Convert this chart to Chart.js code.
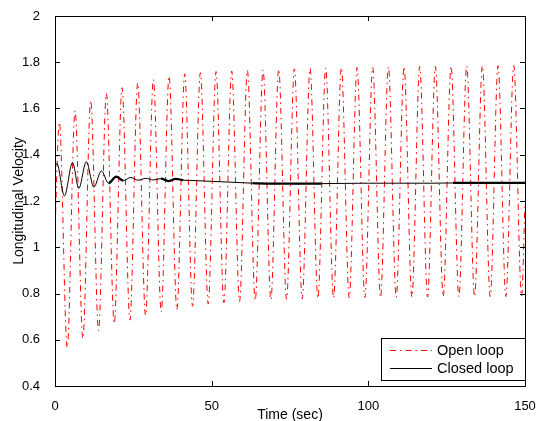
<!DOCTYPE html>
<html>
<head>
<meta charset="utf-8">
<script src="https://cdn.jsdelivr.net/npm/chart.js@4.4.0/dist/chart.umd.min.js"></script>
<style>
  body { margin: 0; background: #fff; }
  canvas { display: block; }
</style>
</head>
<body>
<canvas id="myChart" width="538" height="421"></canvas>
<script>
// open loop: start value, then peak / trough pairs, then end value
const openTime = [0,
  1.4, 3.9, 6.4, 8.9, 11.4, 13.9, 16.4, 18.9, 21.4, 23.9,
  26.4, 28.9, 31.4, 33.9, 36.4, 38.9, 41.4, 43.9, 46.4, 48.9,
  51.4, 53.9, 56.4, 58.9, 61.4, 63.9, 66.4, 68.9, 71.4, 73.9,
  76.4, 78.9, 81.4, 83.9, 86.4, 88.9, 91.4, 93.9, 96.4, 98.9,
  101.4, 103.9, 106.4, 108.9, 111.4, 113.9, 116.4, 118.9, 121.4, 123.9,
  126.4, 128.9, 131.4, 133.9, 136.4, 138.9, 141.4, 143.9, 146.4, 148.9,
  150];
const openVel = [1.08,
  1.54, 0.565, 1.59, 0.605, 1.635, 0.64, 1.665, 0.67, 1.69, 0.685,
  1.71, 0.705, 1.725, 0.72, 1.74, 0.73, 1.75, 0.745, 1.755, 0.755,
  1.76, 0.76, 1.762, 0.765, 1.765, 0.77, 1.767, 0.772, 1.77, 0.775,
  1.772, 0.777, 1.774, 0.779, 1.775, 0.78, 1.777, 0.781, 1.778, 0.782,
  1.779, 0.783, 1.78, 0.784, 1.781, 0.785, 1.782, 0.785, 1.782, 0.786,
  1.783, 0.786, 1.784, 0.787, 1.785, 0.787, 1.785, 0.787, 1.786, 0.788,
  1.19];

const closedTime = [0, 0.6, 3.0, 5.6, 7.6, 10.0, 12.4, 14.8, 17.1, 19.5,
  21.8, 24.2, 26.5, 29, 31.4, 33.8, 36.2, 38.5, 41, 45,
  50, 55, 60, 63, 65, 70, 80, 85, 90, 100,
  110, 120, 127, 135, 150];
const closedVel = [1.35, 1.362, 1.222, 1.366, 1.255, 1.37, 1.26, 1.33, 1.277, 1.305,
  1.288, 1.302, 1.29, 1.298, 1.291, 1.297, 1.286, 1.296, 1.29, 1.288,
  1.285, 1.282, 1.279, 1.277, 1.276, 1.275, 1.275, 1.275, 1.276, 1.277,
  1.277, 1.277, 1.278, 1.278, 1.278];

// stretches where the closed loop trace has fine ripple (drawn heavier)
const rippleRanges = [[17.1, 21.8], [33.8, 41], [63, 85], [127, 150]];

const xTicks = [0, 50, 100, 150];
const yTicks = [0.4, 0.6, 0.8, 1, 1.2, 1.4, 1.6, 1.8, 2];

const labels = ["Open loop", "Closed loop"];

const inRipple = (a, b) => rippleRanges.some(r => a >= r[0] && b <= r[1]);

const matlabAxes = {
  id: "matlabAxes",
  afterDraw(chart) {
    const { ctx, chartArea: a, scales: { x, y } } = chart;
    ctx.save();
    ctx.strokeStyle = "#000";
    ctx.lineWidth = 1;
    ctx.beginPath();
    xTicks.forEach((v) => {
      const px = Math.round(x.getPixelForValue(v)) + 0.5;
      ctx.moveTo(px, a.bottom);
      ctx.lineTo(px, a.bottom - 5);
      ctx.moveTo(px, a.top);
      ctx.lineTo(px, a.top + 5);
    });
    yTicks.forEach((v) => {
      const py = Math.round(y.getPixelForValue(v)) + 0.5;
      ctx.moveTo(a.left, py);
      ctx.lineTo(a.left + 5, py);
      ctx.moveTo(a.right, py);
      ctx.lineTo(a.right - 5, py);
    });
    ctx.stroke();
    ctx.strokeRect(Math.round(a.left) + 0.5, Math.round(a.top) + 0.5,
      Math.round(a.right - a.left), Math.round(a.bottom - a.top));

    // legend box, lower right
    const bx = 381, by = 338, bw = Math.round(a.right) - bx, bh = 42;
    ctx.fillStyle = "#fff";
    ctx.fillRect(bx, by, bw, bh);
    ctx.strokeRect(bx + 0.5, by + 0.5, bw, bh);
    ctx.font = "14.5px 'Liberation Sans', Arial, sans-serif";
    ctx.textBaseline = "middle";
    chart.data.datasets.forEach((ds, i) => {
      const ly = by + 12.5 + i * 18;
      ctx.beginPath();
      ctx.strokeStyle = ds.borderColor;
      ctx.lineWidth = 1;
      ctx.setLineDash(ds.borderDash || []);
      ctx.moveTo(390, ly);
      ctx.lineTo(432, ly);
      ctx.stroke();
      ctx.setLineDash([]);
      ctx.fillStyle = "#000";
      ctx.fillText(ds.label, 437, ly + 0.5);
    });
    ctx.restore();
  },
};

const data = {
  datasets: [
    {
      label: labels[0],
      data: openTime.map((t, i) => ({ x: t, y: openVel[i] })),
      borderColor: "#ff0000",
      borderWidth: 1,
      borderDash: [6, 4, 1.5, 4],
      pointRadius: 0,
      cubicInterpolationMode: "monotone",
      order: 1,
    },
    {
      label: labels[1],
      data: closedTime.map((t, i) => ({ x: t, y: closedVel[i] })),
      borderColor: "#000000",
      borderWidth: 1,
      pointRadius: 0,
      cubicInterpolationMode: "monotone",
      order: 0,
      segment: {
        borderWidth: (c) => (inRipple(c.p0.parsed.x, c.p1.parsed.x) ? 2.2 : 1),
      },
    },
  ],
};

const tickFont = { family: "'Liberation Sans', Arial, sans-serif", size: 13 };
const titleFont = { family: "'Liberation Sans', Arial, sans-serif", size: 14, lineHeight: 0.8 };

new Chart(document.getElementById("myChart"), {
  type: "line",
  data: data,
  options: {
    responsive: false,
    animation: false,
    layout: { padding: { top: 16, right: 13, bottom: 0, left: 0 } },
    plugins: { legend: { display: false }, tooltip: { enabled: false } },
    scales: {
      x: {
        type: "linear",
        min: 0,
        max: 150,
        afterBuildTicks: (s) => { s.ticks = xTicks.map((v) => ({ value: v })); },
        afterFit: (s) => { s.height = 35; s.paddingLeft = 0; s.paddingRight = 0; },
        grid: { display: false },
        border: { display: false },
        ticks: { color: "#000", font: tickFont, padding: 5, maxRotation: 0, autoSkip: false },
        title: { display: true, text: "Time (sec)", color: "#000", font: titleFont, padding: 0 },
      },
      y: {
        type: "linear",
        min: 0.4,
        max: 2,
        afterBuildTicks: (s) => { s.ticks = yTicks.map((v) => ({ value: v })); },
        afterFit: (s) => { s.width = 55; s.paddingTop = 0; s.paddingBottom = 0; },
        grid: { display: false },
        border: { display: false },
        ticks: {
          color: "#000",
          font: tickFont,
          padding: 7,
          autoSkip: false,
          callback: (v) => String(Number(v.toFixed(1))),
        },
        title: {
          display: true,
          text: "Longitudinal Velocity",
          color: "#000",
          font: { family: "'Liberation Sans', Arial, sans-serif", size: 14 },
          padding: { top: 11, bottom: 0 },
        },
      },
    },
  },
  plugins: [matlabAxes],
});
</script>
</body>
</html>
